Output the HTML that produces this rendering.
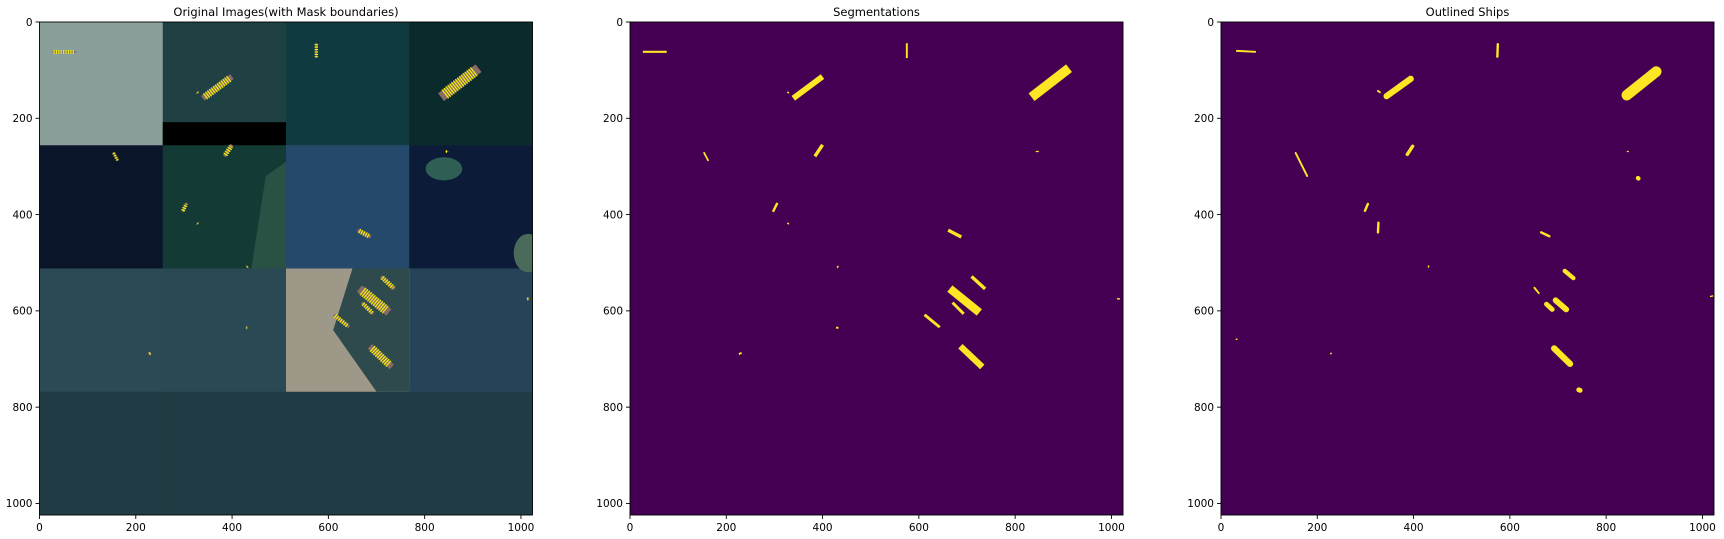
<!DOCTYPE html>
<html><head><meta charset="utf-8">
<style>
html,body{margin:0;padding:0;background:#fff;}
svg{display:block;font-family:"DejaVu Sans","Liberation Sans",sans-serif;}
</style></head>
<body>
<svg id="fig" width="1724" height="539" viewBox="0 0 1724 539" xmlns="http://www.w3.org/2000/svg"></svg>
<script>
// ---- data ----
const panelTitles = ["Original Images(with Mask boundaries)", "Segmentations", "Outlined Ships"];
const tickValues = [0, 200, 400, 600, 800, 1000];
const tickLabels = ["0", "200", "400", "600", "800", "1000"];
const tileColors = [
  ["#8b9f9a", "#1f4144", "#0f3b40", "#0a2a2c"],
  ["#0b152a", "#133a34", "#25496a", "#0c1c38"],
  ["#2b4a55", "#294a54", "#9e9888", "#264458"],
  ["#223c45", "#223c45", "#223c45", "#223c45"]
];
// ship segments in image units: [x1, y1, x2, y2, thickness]
const segShips = [
  [29,62,74,62,4.5],[575,46,575,73,4],[328,146,329,147,3],[344,155,395,117,12],
  [842,150,904,102,20],[154,272,162,287,3.5],[386,276,398,258,7],[844,269,848,269,2.5],
  [298,392,305,378,5],[328,418,329,419,3],[664,434,685,445,7],[431,509,432,508,3],
  [712,531,735,552,7],[671,559,719,598,17],[672,585,691,604,6],[614,610,641,632,6],
  [1013,575,1016,575,3],[430,635,431,635,4],[228,689,230,688,4],[691,678,727,712,13]
];
const outlinedShips = [
  [33,60,71,62,4],[575,46,574,72,5],[326,143,330,146,4],[344,154,394,118,13],
  [843,152,904,103,22],[155,272,179,320,4],[387,275,398,258,7],[844,269,846,269,2],
  [866,324,867,325,9],[299,392,305,378,5],[326,437,327,417,5],[665,437,682,445,5],
  [431,507,431,509,3],[714,517,732,532,9],[651,552,660,563,4],[695,578,717,597,12],
  [676,586,688,597,10],[1017,570,1021,569,3],[32,659,33,659,3],[228,689,229,688,3],
  [692,678,725,710,13],[743,764,746,765,10]
];

// ---- layout ----
const NS = "http://www.w3.org/2000/svg";
const svg = document.getElementById("fig");
const panelX = [39.5, 630, 1221];
const panelY = 22;
const panelSize = 493;
const sc = panelSize / 1024;
function mk(tag, attrs, parent) {
  const e = document.createElementNS(NS, tag);
  for (const k in attrs) e.setAttribute(k, attrs[k]);
  (parent || svg).appendChild(e);
  return e;
}
function sx(p, v) { return panelX[p] + v * sc; }
function sy(v) { return panelY + v * sc; }

const defs = mk("defs", {});
for (let p = 0; p < 3; p++) {
  const cp = mk("clipPath", {id: "clip" + p}, defs);
  mk("rect", {x: panelX[p], y: panelY, width: panelSize, height: panelSize}, cp);
}

function drawShips(p, arr, g, mode) {
  arr.forEach(s => {
    const ln = mk("line", {x1: sx(p, s[0]), y1: sy(s[1]), x2: sx(p, s[2]), y2: sy(s[3]),
      "stroke-width": Math.max(1.2, s[4] * sc), "stroke-linecap": mode === "outlined" ? "round" : "square"}, g);
    if (mode === "orig") {
      ln.setAttribute("stroke", "#8a6a66");
      const o = mk("line", {x1: sx(p, s[0]), y1: sy(s[1]), x2: sx(p, s[2]), y2: sy(s[3]),
        "stroke-width": Math.max(2, s[4] * sc + 1.5), stroke: "#ffff00", "stroke-dasharray": "1.2 1.2",
        fill: "none", opacity: 0.9}, g);
      
      
    } else {
      ln.setAttribute("stroke", "#fde725");
    }
    
    
  });
}

for (let p = 0; p < 3; p++) {
  const g = mk("g", {});
  
  
  const ig = mk("g", {"clip-path": "url(#clip" + p + ")"}, g);
  if (p === 0) {
    tileColors.forEach((row, r) => row.forEach((c, ci) => {
      const t = mk("rect", {x: sx(0, ci * 256), y: sy(r * 256), width: 256 * sc + 0.5, height: 256 * sc + 0.5, fill: c}, ig);
      
      
    }));
    mk("rect", {x: sx(0, 256), y: sy(208), width: 256 * sc, height: 48 * sc, fill: "#000"}, ig);
    mk("ellipse", {cx: sx(0, 840), cy: sy(305), rx: 38 * sc, ry: 24 * sc, fill: "#2f5e55"}, ig);
    mk("ellipse", {cx: sx(0, 1015), cy: sy(480), rx: 30 * sc, ry: 40 * sc, fill: "#4a6a5a"}, ig);
    mk("polygon", {points: [sx(0,650)+","+sy(512), sx(0,768)+","+sy(512), sx(0,768)+","+sy(768), sx(0,700)+","+sy(768), sx(0,610)+","+sy(640)].join(" "), fill: "#2e4a4c"}, ig);
    mk("polygon", {points: [sx(0,470)+","+sy(320), sx(0,512)+","+sy(290), sx(0,512)+","+sy(512), sx(0,440)+","+sy(512)].join(" "), fill: "#2a5244"}, ig);
    drawShips(0, segShips, ig, "orig");
  } else {
    const bg = mk("rect", {x: panelX[p], y: panelY, width: panelSize, height: panelSize, fill: "#440154"}, ig);
    
    
    drawShips(p, p === 1 ? segShips : outlinedShips, ig, p === 1 ? "seg" : "outlined");
  }
  const fr = mk("rect", {x: panelX[p], y: panelY, width: panelSize, height: panelSize, fill: "none", stroke: "#000", "stroke-width": 0.9}, g);
  
  
  const t = mk("text", {x: panelX[p] + panelSize / 2, y: panelY - 6, "text-anchor": "middle", "font-size": 11.5, fill: "#000"}, g);
  t.textContent = panelTitles[p];
  
  
  tickValues.forEach((v, i) => {
    const x = sx(p, v), y = sy(v);
    mk("line", {x1: x, y1: panelY + panelSize, x2: x, y2: panelY + panelSize + 4, stroke: "#000", "stroke-width": 0.9}, g);
    const xl = mk("text", {x: x, y: panelY + panelSize + 16, "text-anchor": "middle", "font-size": 10.5, fill: "#000"}, g);
    xl.textContent = tickLabels[i];
    
    
    mk("line", {x1: panelX[p] - 4, y1: y, x2: panelX[p], y2: y, stroke: "#000", "stroke-width": 0.9}, g);
    const yl = mk("text", {x: panelX[p] - 7, y: y + 3.8, "text-anchor": "end", "font-size": 10.5, fill: "#000"}, g);
    yl.textContent = tickLabels[i];
    
    
  });
}
</script>
</body></html>
